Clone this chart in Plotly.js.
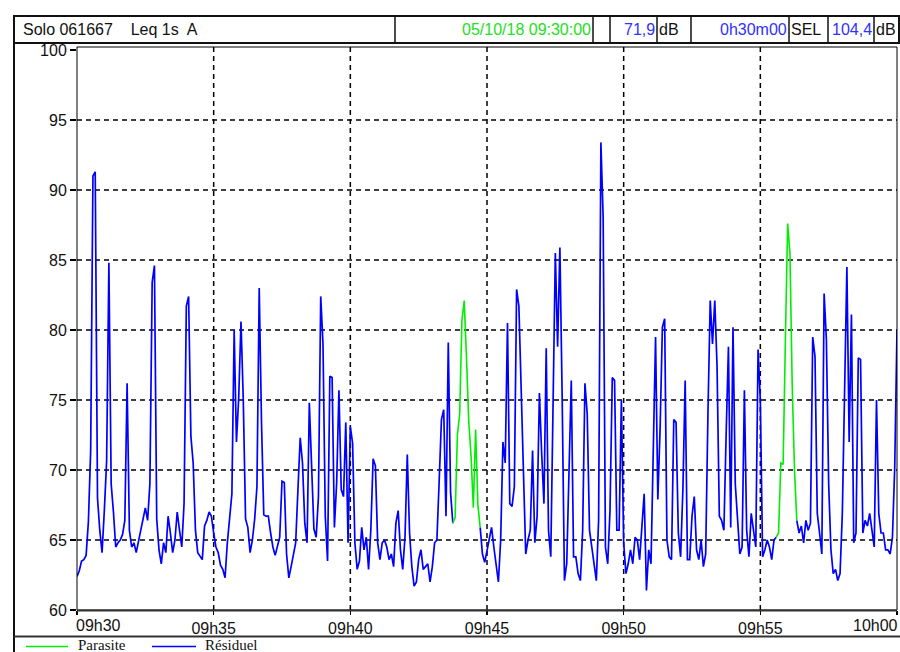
<!DOCTYPE html>
<html>
<head>
<meta charset="utf-8">
<script src="https://cdn.plot.ly/plotly-3.0.1.min.js"></script>
<style>
  html, body { margin: 0; padding: 0; background: #ffffff; }
  #chart { width: 900px; height: 652px; }
</style>
</head>
<body>
<div id="chart"></div>
<script>
// ---------- data ----------
const timeLabels = ['09h30', '09h35', '09h40', '09h45', '09h50', '09h55', '10h00'];
const tickSeconds = [0, 300, 600, 900, 1200, 1500, 1800];
const stepSeconds = 5;
const yTickValues = [60, 65, 70, 75, 80, 85, 90, 95, 100];
const yGridValues = [65, 70, 75, 80, 85, 90, 95];
const xGridSeconds = [300, 600, 900, 1200, 1500];

// Leq 1s A, read every 5 s from the picture (dB)
const leq = [
  62.4,62.8,63.5,63.6,63.9,66.3,71.4,91.0,91.3,68.0,
  65.7,64.1,67.1,70.6,84.8,69.0,67.0,64.5,64.8,65.0,
  65.4,66.4,76.2,65.7,64.5,64.8,64.1,64.8,65.7,66.5,
  67.3,66.4,69.0,83.4,84.6,66.5,64.3,63.3,64.8,64.1,
  66.7,65.5,64.1,65.0,67.0,65.7,64.5,67.6,81.7,82.4,
  72.4,70.5,65.7,64.1,63.8,63.6,66.0,66.4,67.0,66.7,
  65.5,64.5,64.1,63.2,62.9,62.3,64.8,66.4,68.3,80.0,
  72.0,75.2,80.6,75.0,66.5,65.9,64.1,65.0,66.5,68.8,
  83.0,73.4,66.8,66.7,66.7,65.5,64.5,63.9,64.5,65.2,
  69.2,69.1,64.0,62.3,63.1,64.1,64.8,68.6,72.3,70.5,
  66.2,64.8,74.8,70.3,65.8,65.2,68.1,82.4,79.0,66.7,
  63.5,76.7,76.6,65.9,69.1,75.7,68.6,68.1,73.4,64.8,
  73.1,71.9,64.8,62.9,63.5,65.9,64.3,65.2,62.9,65.7,
  70.8,70.3,64.8,63.6,64.8,65.0,64.5,63.6,64.0,63.1,
  66.2,67.1,64.3,62.9,65.2,71.1,65.5,63.1,61.7,62.0,
  63.6,64.3,62.9,63.1,63.3,62.0,63.1,64.8,65.0,69.2,
  73.6,74.3,66.7,79.1,68.4,66.2,66.6,72.5,74.0,80.7,
  82.1,78.0,73.4,71.0,67.3,72.9,67.5,65.9,64.0,63.4,
  64.3,65.2,65.9,64.5,63.4,62.0,65.0,72.0,70.5,80.5,
  67.6,67.4,68.8,82.9,81.7,75.2,70.0,64.0,65.0,65.7,
  71.4,64.8,66.7,75.5,71.2,67.6,78.7,65.7,63.8,73.6,
  85.5,78.8,85.9,75.2,62.1,63.3,70.9,76.4,63.8,63.8,
  62.6,62.1,65.7,76.2,74.0,65.7,64.5,63.3,62.1,66.4,
  93.4,88.0,64.5,63.3,67.1,76.6,76.4,65.7,65.7,75.0,
  64.8,62.6,63.3,64.3,63.3,65.2,65.0,63.6,65.7,68.3,
  61.4,64.3,63.3,72.6,79.5,67.9,73.0,80.2,80.8,65.0,
  63.8,63.6,73.6,73.4,65.5,63.8,68.6,76.4,63.6,63.6,
  66.7,68.1,64.3,63.6,65.0,63.1,64.0,74.0,82.1,79.0,
  82.1,77.4,66.7,66.4,65.7,72.6,78.8,65.9,80.2,69.0,
  66.7,64.0,64.5,75.7,65.7,63.8,66.9,65.5,64.5,78.6,
  75.0,63.8,64.3,65.0,64.5,63.6,65.0,65.2,65.5,70.5,
  70.4,79.3,87.6,85.5,76.0,70.0,66.4,65.5,66.0,64.8,
  66.4,65.7,66.2,79.5,78.1,66.9,65.5,64.0,82.6,79.3,
  69.0,64.3,62.6,62.9,62.1,62.6,66.9,75.0,84.5,72.0,
  81.1,64.8,65.5,78.0,77.9,65.5,66.4,66.0,66.9,65.7,
  64.5,75.0,66.9,65.5,65.5,64.3,64.3,64.0,65.2,70.2,
  80.0
];
// index ranges (inclusive) flagged as "Parasite"
const parasiteSegments = [[165, 177], [307, 316]];

const headerTitle = 'Solo 061667\u00a0\u00a0\u00a0 Leq 1s\u00a0 A';
const headerDate = '05/10/18 09:30:00';
const headerLeq = '71,9';
const headerDuration = '0h30m00';
const headerSel = '104,4';
const legendNames = ['Parasite', 'Résiduel'];

// ---------- build series ----------
const seconds = leq.map((_, i) => i * stepSeconds);
function inParasite(i, strict) {
  return parasiteSegments.some(([a, b]) => strict ? (i > a && i < b) : (i >= a && i <= b));
}
const blueY = leq.map((v, i) => inParasite(i, true) ? null : v);
const greenY = leq.map((v, i) => inParasite(i, false) ? v : null);

// ---------- pixel helpers ----------
const PL = 77, PR = 897, PT = 50, PB = 610;
const X = px => (px - PL) / (PR - PL);
const Y = py => (PB - py) / (PB - PT);

const FONT = '"Liberation Sans", Arial, sans-serif';
const BLUE_TXT = '#3030ff';
const GREEN_TXT = '#22e022';

const shapes = [];
// grid
yGridValues.forEach(v => shapes.push({type: 'line', layer: 'below', xref: 'paper', yref: 'y',
  x0: 0, x1: 1, y0: v, y1: v, line: {color: '#000', width: 1.5, dash: '5px,4px'}}));
xGridSeconds.forEach(v => shapes.push({type: 'line', layer: 'below', xref: 'x', yref: 'paper',
  x0: v, x1: v, y0: 0, y1: Y(47), line: {color: '#000', width: 1.5, dash: '5px,4px'}}));
// plot frame
shapes.push({type: 'rect', xref: 'paper', yref: 'paper', x0: X(77), x1: X(897), y0: Y(610), y1: Y(47),
  line: {color: '#000', width: 1}});
shapes.push({type: 'line', xref: 'paper', yref: 'paper', x0: X(77), x1: X(897), y0: Y(610.5), y1: Y(610.5),
  line: {color: '#333', width: 2}});
// header box
shapes.push({type: 'rect', xref: 'paper', yref: 'paper', x0: X(14), x1: X(899), y0: Y(43), y1: Y(16),
  line: {color: '#111', width: 2}});
[395, 593, 610, 657, 691, 789, 828, 874].forEach(px => shapes.push({type: 'line', xref: 'paper', yref: 'paper',
  x0: X(px), x1: X(px), y0: Y(43), y1: Y(16), line: {color: '#111', width: 1.5}}));
// outer left frame
shapes.push({type: 'line', xref: 'paper', yref: 'paper', x0: X(14), x1: X(14), y0: Y(652), y1: Y(16),
  line: {color: '#111', width: 2}});
// legend box top
shapes.push({type: 'line', xref: 'paper', yref: 'paper', x0: X(14), x1: X(900), y0: Y(636.5), y1: Y(636.5),
  line: {color: '#333', width: 2}});
// legend samples
shapes.push({type: 'line', xref: 'paper', yref: 'paper', x0: X(26), x1: X(68), y0: Y(646.5), y1: Y(646.5),
  line: {color: '#00ee00', width: 1.5}});
shapes.push({type: 'line', xref: 'paper', yref: 'paper', x0: X(152), x1: X(196), y0: Y(646.5), y1: Y(646.5),
  line: {color: '#0000ff', width: 1.5}});

const ann = (text, px, py, anchor, color, family, size) => ({
  text: text, xref: 'paper', yref: 'paper', x: X(px), y: Y(py), xanchor: anchor, yanchor: 'middle',
  showarrow: false, font: {family: family || FONT, size: size || 16, color: color || '#111'}
});

const annotations = [
  ann(headerTitle, 21, 30, 'left'),
  ann(headerDate, 593, 30, 'right', GREEN_TXT),
  ann(headerLeq, 657, 30, 'right', BLUE_TXT),
  ann('dB', 657, 30, 'left'),
  ann(headerDuration, 789, 30, 'right', BLUE_TXT),
  ann('SEL', 789, 30, 'left'),
  ann(headerSel, 874, 30, 'right', BLUE_TXT),
  ann('dB', 874, 30, 'left'),
  // end tick labels (shifted inside like the original)
  {text: timeLabels[0], xref: 'x', yref: 'paper', x: tickSeconds[0], y: Y(625), xanchor: 'left', yanchor: 'middle',
   xshift: -3, showarrow: false, font: {family: FONT, size: 16, color: '#111'}},
  {text: timeLabels[timeLabels.length - 1], xref: 'x', yref: 'paper', x: tickSeconds[tickSeconds.length - 1], y: Y(625),
   xanchor: 'right', yanchor: 'middle', xshift: 3, showarrow: false, font: {family: FONT, size: 16, color: '#111'}},
  // legend
  ann(legendNames[0], 76, 645, 'left', '#111', '"Liberation Serif", "Times New Roman", serif', 15),
  ann(legendNames[1], 203, 645, 'left', '#111', '"Liberation Serif", "Times New Roman", serif', 15)
];

const traces = [
  {x: seconds, y: blueY, type: 'scatter', mode: 'lines', name: legendNames[1],
   line: {color: '#0000ff', width: 1.7}, connectgaps: false, hoverinfo: 'skip', showlegend: false},
  {x: seconds, y: greenY, type: 'scatter', mode: 'lines', name: legendNames[0],
   line: {color: '#00ee00', width: 1.6}, connectgaps: false, hoverinfo: 'skip', showlegend: false}
];

const layout = {
  width: 900, height: 652,
  margin: {l: PL, r: 900 - PR, t: PT, b: 652 - PB, pad: 0},
  paper_bgcolor: '#ffffff', plot_bgcolor: '#ffffff',
  showlegend: false,
  font: {family: FONT, size: 16, color: '#111'},
  xaxis: {
    range: [0, 1800], tickmode: 'array', tickvals: tickSeconds,
    ticktext: timeLabels.map((t, i) => (i === 0 || i === timeLabels.length - 1) ? '' : t),
    ticks: 'outside', ticklen: 4, tickwidth: 1.5, tickcolor: '#000',
    showgrid: false, zeroline: false, showline: false,
    tickfont: {family: FONT, size: 16, color: '#111'}, fixedrange: true
  },
  yaxis: {
    range: [60, 100], tickmode: 'array', tickvals: yTickValues,
    ticks: 'outside', ticklen: 6, tickwidth: 1.5, tickcolor: '#000',
    showgrid: false, zeroline: false, showline: false,
    tickfont: {family: FONT, size: 16, color: '#111'}, fixedrange: true
  },
  shapes: shapes,
  annotations: annotations
};

Plotly.newPlot('chart', traces, layout, {staticPlot: true, displayModeBar: false});
</script>
</body>
</html>
